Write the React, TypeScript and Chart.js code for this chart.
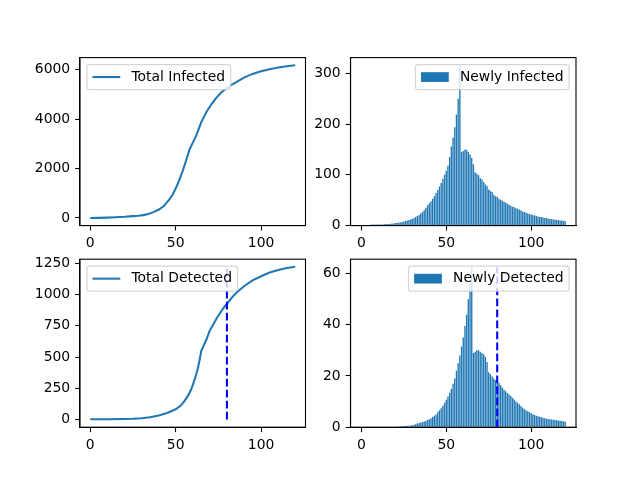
import React, { useEffect, useRef } from "react";
import { Chart, registerables } from "chart.js";

Chart.register(...registerables);

const FONT = "'DejaVu Sans', sans-serif";
const FS = 13.9;
const BLUE = "#1f77b4";
const CUT_COLOR = "#0000ff";

// ---- data ----
const newlyInfected = [
  1, 1, 1, 1, 1, 1, 2, 2, 2, 2,
  2, 2, 2, 2, 3, 3, 3, 3, 4, 4,
  5, 5, 6, 6, 7, 8, 9, 10, 11, 12,
  13, 15, 17, 19, 21, 24, 27, 30, 35, 40,
  44, 48, 53, 58, 64, 70, 77, 84, 92, 100,
  108, 118, 135, 156, 173, 194, 219, 250, 315,
  145, 147, 150, 149, 145, 140,
  133, 121, 105, 102, 99, 94, 91, 86, 81, 78,
  71, 68, 66, 61, 58, 57, 53, 51, 49, 47,
  45, 43, 41, 39, 37, 36, 34, 33, 31, 30,
  28, 27, 26, 24, 23, 22, 21, 20, 19, 18,
  17, 17, 16, 15, 15, 14, 13, 13, 12, 12,
  11, 11, 10, 10, 9, 9,
];

const newlyDetected = [
  0, 0, 0, 0, 0, 0, 0, 0, 0, 0, 0, 0, 0, 0, 0, 0, 0, 0, 0, 0, 0, 0,
  0.3, 0.4, 0.4, 0.5, 0.5, 0.6, 0.6, 0.7, 0.8,
  1, 1.2, 1.4, 1.6, 1.8, 2, 2.2, 2.5, 2.8, 3.1,
  3.5, 4, 4.5, 5, 5.8, 6.6, 7.4, 8.4, 9.5, 10.7,
  12, 13.5, 15, 17, 19, 22, 25, 28, 31.5, 35,
  39.5, 44, 50, 56, 62.5,
  29, 29.5, 30, 30, 29.5, 29, 28.5, 27.5, 25.5, 21.5,
  20.7, 19.8, 19, 18.4, 18, 17.4, 16.5, 15.5, 14.7, 14,
  13.4, 12.8, 12.2, 11.5, 10.8, 10, 9.5, 9, 8.3, 7.6,
  7, 6.6, 6.2, 5.8, 5.4, 5.1, 4.8, 4.5, 4.3, 4.1,
  3.9, 3.7, 3.5, 3.3, 3.2, 3.1, 3, 2.9, 2.8, 2.7,
  2.6, 2.5, 2.4, 2.3, 2.2,
];

const totalInfectedDays = [
  0, 5, 10, 15, 20, 25, 28, 31, 34, 37, 40, 43, 46, 48, 50, 52, 54, 56, 57, 58,
  60, 62, 65, 68, 71, 74, 77, 80, 83, 86, 90, 95, 100, 105, 110, 115, 120,
];
const totalInfectedValues = [
  0, 5, 15, 28, 47, 75, 90, 115, 160, 235, 330, 480, 720, 920, 1190, 1510, 1880, 2300, 2520, 2760,
  3040, 3330, 3880, 4290, 4610, 4880, 5095, 5260, 5400, 5520, 5680, 5830, 5935, 6020, 6090, 6140, 6180,
];

const totalDetectedDays = [
  0, 10, 20, 25, 30, 35, 40, 45, 50, 53, 55, 57, 59, 60, 61, 62, 63, 64, 65,
  66, 68, 70, 72, 74, 76, 78, 80, 83, 86, 90, 95, 100, 105, 110, 115, 120,
];
const totalDetectedValues = [
  3, 3, 4, 6, 10, 18, 33, 52, 82, 112, 145, 185, 238, 275, 315, 360, 410, 475, 550,
  579, 640, 712, 760, 810, 852, 892, 926, 977, 1020, 1066, 1113, 1146, 1175, 1196, 1211, 1221,
];

const cutoffDay = 80;
const cutoffTopTotal = 1205;
const cutoffTopNew = 62.5;

const xTicks = [0, 50, 100];
const totalInfectedTicks = [0, 2000, 4000, 6000];
const newlyInfectedTicks = [0, 100, 200, 300];
const totalDetectedTicks = [0, 250, 500, 750, 1000, 1250];
const newlyDetectedTicks = [0, 20, 40, 60];

// ---- figure layout (matplotlib-like 2x2 subplots) ----
const W = 640;
const H = 480;
const YW = 70;
const XH = 30;
const COLS = [
  [80, 305.5],
  [350.5, 576],
];
const ROWS = [
  [57.6, 225.6],
  [259.2, 427.2],
];

function legendPlugin(label: string, kind: "line" | "patch", pos: "left" | "right") {
  return {
    id: "frameLegend",
    afterDraw(chart: any) {
      const { ctx, chartArea: a } = chart;
      ctx.save();
      ctx.strokeStyle = "#000";
      ctx.lineWidth = 1.1;
      ctx.strokeRect(a.left, a.top, a.right - a.left, a.bottom - a.top);

      ctx.font = `${FS}px ${FONT}`;
      const tw = ctx.measureText(label).width;
      const pad = 0.4 * FS;
      const hl = 2 * FS;
      const htp = 0.8 * FS;
      const bap = 0.5 * FS;
      const w = 2 * pad + hl + htp + tw;
      const h = 2 * pad + FS;
      const x = pos === "left" ? a.left + bap : a.right - bap - w;
      const y = a.top + bap;
      const r = 0.2 * FS;
      ctx.beginPath();
      ctx.moveTo(x + r, y);
      ctx.lineTo(x + w - r, y);
      ctx.arcTo(x + w, y, x + w, y + r, r);
      ctx.lineTo(x + w, y + h - r);
      ctx.arcTo(x + w, y + h, x + w - r, y + h, r);
      ctx.lineTo(x + r, y + h);
      ctx.arcTo(x, y + h, x, y + h - r, r);
      ctx.lineTo(x, y + r);
      ctx.arcTo(x, y, x + r, y, r);
      ctx.closePath();
      ctx.fillStyle = "rgba(255,255,255,0.8)";
      ctx.fill();
      ctx.strokeStyle = "rgba(204,204,204,0.8)";
      ctx.lineWidth = 1.2;
      ctx.stroke();

      const cy = y + h / 2;
      const hx = x + pad;
      if (kind === "line") {
        ctx.strokeStyle = BLUE;
        ctx.lineWidth = 2.08;
        ctx.beginPath();
        ctx.moveTo(hx, cy);
        ctx.lineTo(hx + hl, cy);
        ctx.stroke();
      } else {
        ctx.fillStyle = BLUE;
        const ph = 0.7 * FS;
        ctx.fillRect(hx, cy - ph / 2, hl, ph);
      }
      ctx.fillStyle = "#000";
      ctx.textBaseline = "middle";
      ctx.textAlign = "left";
      ctx.fillText(label, hx + hl + htp, cy);
      ctx.restore();
    },
  };
}

function axisOpts(ticks: number[], min: number, max: number, isX: boolean) {
  return {
    type: "linear",
    min,
    max,
    offset: false,
    afterBuildTicks: (scale: any) => {
      scale.ticks = ticks.map((v) => ({ value: v }));
    },
    afterFit: (scale: any) => {
      if (isX) scale.height = XH;
      else scale.width = YW;
    },
    grid: {
      display: true,
      drawOnChartArea: false,
      drawTicks: true,
      tickLength: 4.9,
      tickWidth: 1.1,
      tickColor: "#000",
      color: "#000",
      offset: false,
    },
    border: { display: true, color: "#000", width: 1.1 },
    ticks: {
      autoSkip: false,
      maxRotation: 0,
      padding: 4.9,
      color: "#000",
      font: { family: FONT, size: FS },
      callback: (v: number) => String(v),
    },
  };
}

function padding(col: number, row: number) {
  const [L, R] = COLS[col];
  const [T, B] = ROWS[row];
  return { left: L - YW, right: W - R, top: T, bottom: H - B - XH };
}

function baseOptions(col: number, row: number, xMin: number, xMax: number, yTicks: number[], yMin: number, yMax: number) {
  return {
    responsive: false,
    animation: false,
    events: [],
    layout: { padding: padding(col, row) },
    plugins: { legend: { display: false }, tooltip: { enabled: false } },
    scales: {
      x: axisOpts(xTicks, xMin, xMax, true),
      y: axisOpts(yTicks, yMin, yMax, false),
    },
  };
}

function cutoffDataset(top: number) {
  return {
    type: "line",
    label: "cutoff",
    data: [
      { x: cutoffDay, y: 0 },
      { x: cutoffDay, y: top },
    ],
    borderColor: CUT_COLOR,
    borderWidth: 2.08,
    borderDash: [7.7, 3.3],
    borderCapStyle: "butt",
    pointRadius: 0,
    order: 0,
  };
}

function lineConfig(days: number[], values: number[], label: string, col: number, row: number, yTicks: number[], yMin: number, yMax: number, cutTop: number | null) {
  const datasets: any[] = [];
  if (cutTop !== null) datasets.push(cutoffDataset(cutTop));
  datasets.push({
    label,
    data: days.map((d, i) => ({ x: d, y: values[i] })),
    borderColor: BLUE,
    borderWidth: 2.08,
    pointRadius: 0,
    tension: 0,
    fill: false,
    order: 1,
  });
  return {
    type: "line",
    data: { datasets },
    options: baseOptions(col, row, -6, 126, yTicks, yMin, yMax),
    plugins: [legendPlugin(label, "line", "left")],
  };
}

function barConfig(values: number[], label: string, col: number, row: number, yTicks: number[], yMax: number, cutTop: number | null) {
  const datasets: any[] = [];
  if (cutTop !== null) datasets.push(cutoffDataset(cutTop));
  datasets.push({
    type: "bar",
    label,
    data: values.map((v, i) => ({ x: i, y: v })),
    backgroundColor: BLUE,
    borderWidth: 0,
    categoryPercentage: 1,
    barPercentage: 0.8,
    order: 1,
  });
  return {
    type: "bar",
    data: { datasets },
    options: baseOptions(col, row, -6.4, 126.4, yTicks, 0, yMax),
    plugins: [legendPlugin(label, "patch", "right")],
  };
}

export default function App() {
  const r1 = useRef<HTMLCanvasElement>(null);
  const r2 = useRef<HTMLCanvasElement>(null);
  const r3 = useRef<HTMLCanvasElement>(null);
  const r4 = useRef<HTMLCanvasElement>(null);

  useEffect(() => {
    const charts: Chart[] = [];
    const configs: any[] = [
      [r1, lineConfig(totalInfectedDays, totalInfectedValues, "Total Infected", 0, 0, totalInfectedTicks, -309, 6489, null)],
      [r2, barConfig(newlyInfected, "Newly Infected", 1, 0, newlyInfectedTicks, 331, null)],
      [r3, lineConfig(totalDetectedDays, totalDetectedValues, "Total Detected", 0, 1, totalDetectedTicks, -61, 1282, cutoffTopTotal)],
      [r4, barConfig(newlyDetected, "Newly Detected", 1, 1, newlyDetectedTicks, 65.6, cutoffTopNew)],
    ];
    for (const [ref, cfg] of configs) {
      if (ref.current) charts.push(new Chart(ref.current, cfg));
    }
    return () => charts.forEach((c) => c.destroy());
  }, []);

  const style: React.CSSProperties = { position: "absolute", left: 0, top: 0, width: W, height: H };
  return (
    <div style={{ position: "absolute", left: 0, top: 0, width: W, height: H, background: "#fff" }}>
      <canvas ref={r1} width={W} height={H} style={style} />
      <canvas ref={r2} width={W} height={H} style={style} />
      <canvas ref={r3} width={W} height={H} style={style} />
      <canvas ref={r4} width={W} height={H} style={style} />
    </div>
  );
}
